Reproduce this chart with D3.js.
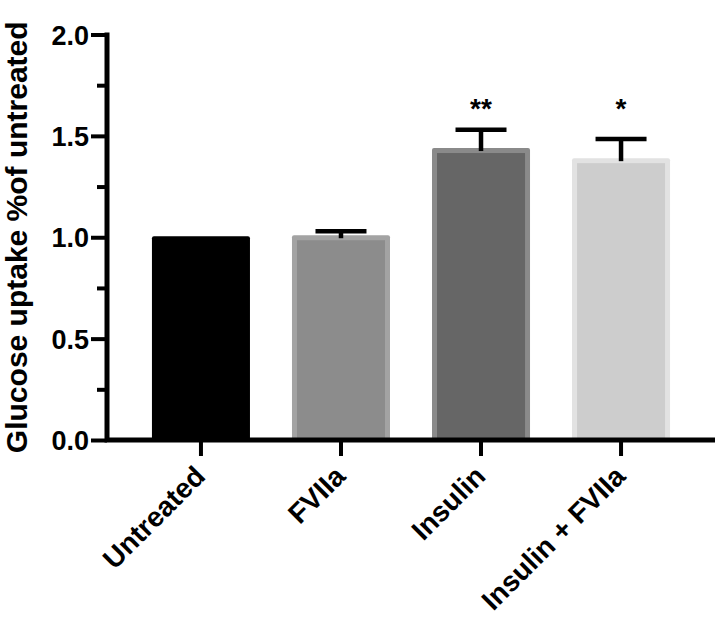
<!DOCTYPE html>
<html>
<head>
<meta charset="utf-8">
<script src="https://cdn.jsdelivr.net/npm/d3@7"></script>
<style>
  body { margin: 0; background: #fff; }
  svg { display: block; font-family: "Liberation Sans", Arial, sans-serif; font-weight: bold; }
</style>
</head>
<body>
<svg id="chart" width="720" height="628"></svg>
<script>
// data
const groups = ["Untreated", "FVIIa", "Insulin", "Insulin + FVIIa"]
const means = [1.005, 1.01, 1.44, 1.39]
const sem = [0, 0.02, 0.09, 0.095]
const stars = ["", "", "**", "*"]
const yTicks = [0, 0.5, 1.0, 1.5, 2.0]
const yMinorTicks = [0.25, 0.75, 1.25, 1.75]

// bar colours: border, inner fill
const borderColors = ["#000000", "#a3a3a3", "#8a8a8a", "#e2e2e2"]
const fillColors = ["#000000", "#8c8c8c", "#666666", "#cdcdcd"]

const margin = { top: 34.5, left: 107, right: 5, bottom: 188 }
const width = 720, height = 628

const svg = d3.select("#chart")

const x = d3.scaleBand()
  .domain(groups)
  .range([margin.left, width - margin.right])
  .paddingInner(0.3)
  .paddingOuter(0.321)

const y = d3.scaleLinear()
  .domain([0, 2])
  .range([height - margin.bottom, margin.top])

const inset = 5

// bars (outer border + inner fill)
const bars = svg.append("g").attr("class", "bars")
groups.forEach((g, i) => {
  const bx = x(g), bw = x.bandwidth()
  const top = y(means[i]), base = y(0)
  bars.append("rect")
    .attr("x", bx).attr("y", top)
    .attr("width", bw).attr("height", base - top)
    .attr("rx", 2)
    .attr("fill", borderColors[i])
  bars.append("rect")
    .attr("x", bx + inset).attr("y", top + inset)
    .attr("width", bw - 2 * inset).attr("height", base - top - inset)
    .attr("fill", fillColors[i])
})

// error bars (upper only)
const err = svg.append("g").attr("class", "errors")
  .attr("stroke", "#000").attr("stroke-width", 4.5)
groups.forEach((g, i) => {
  if (!sem[i]) return
  const cx = x(g) + x.bandwidth() / 2
  err.append("line")
    .attr("x1", cx).attr("x2", cx)
    .attr("y1", y(means[i]) + 3).attr("y2", y(means[i] + sem[i]))
  err.append("line")
    .attr("x1", cx - 25.5).attr("x2", cx + 25.5)
    .attr("y1", y(means[i] + sem[i])).attr("y2", y(means[i] + sem[i]))
})

// significance stars
svg.append("g").selectAll("text")
  .data(groups)
  .join("text")
  .attr("x", d => x(d) + x.bandwidth() / 2)
  .attr("y", y(1.59))
  .attr("text-anchor", "middle")
  .attr("font-size", 28)
  .text((d, i) => stars[i])

// y axis
const yAxis = svg.append("g")
  .attr("transform", `translate(${margin.left},0)`)
  .call(d3.axisLeft(y).tickValues(yTicks).tickFormat(d3.format(".1f")).tickSize(16).tickPadding(2))
yAxis.select(".domain").remove()
yAxis.selectAll(".tick line").attr("stroke", "#000").attr("stroke-width", 4)
yAxis.selectAll(".tick text")
  .attr("font-size", 27).attr("font-family", "Liberation Sans, Arial, sans-serif")
  .attr("font-weight", "bold").attr("fill", "#000").attr("dy", "0.36em")

svg.append("g")
  .attr("transform", `translate(${margin.left},0)`)
  .call(d3.axisLeft(y).tickValues(yMinorTicks).tickFormat("").tickSize(10))
  .call(g => g.select(".domain").remove())
  .selectAll(".tick line").attr("stroke", "#000").attr("stroke-width", 4)

// x axis
const xAxis = svg.append("g")
  .attr("transform", `translate(0,${y(0)})`)
  .call(d3.axisBottom(x).tickSize(16))
xAxis.select(".domain").remove()
xAxis.selectAll(".tick line").attr("stroke", "#000").attr("stroke-width", 4)
xAxis.selectAll(".tick text")
  .attr("font-size", 28).attr("font-family", "Liberation Sans, Arial, sans-serif")
  .attr("font-weight", "bold").attr("fill", "#000")
  .attr("x", 0).attr("y", 0).attr("dy", 0)
  .attr("transform", "translate(6,38) rotate(-45)")
  .style("text-anchor", "end")

// axis lines drawn last so they sit on top
svg.append("path")
  .attr("d", `M${margin.left},${margin.top - 2}V${y(0)}H${width - margin.right}`)
  .attr("fill", "none").attr("stroke", "#000").attr("stroke-width", 5)

// y title
svg.append("text")
  .attr("transform", `translate(27,${(margin.top + y(0)) / 2}) rotate(-90)`)
  .attr("text-anchor", "middle")
  .attr("font-size", 30)
  .text("Glucose uptake %of untreated")
</script>
</body>
</html>
